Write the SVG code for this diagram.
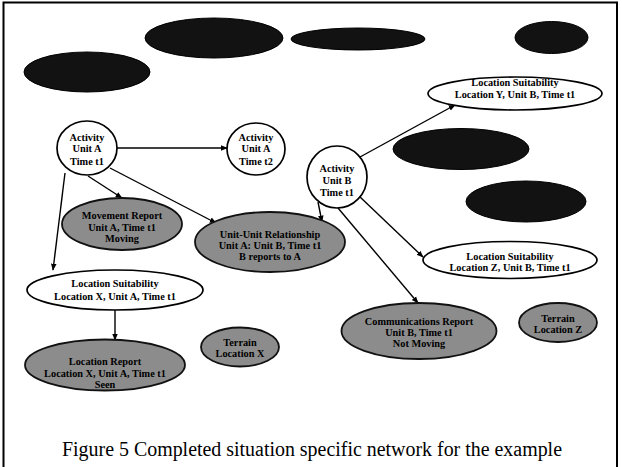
<svg xmlns="http://www.w3.org/2000/svg" width="622" height="467" viewBox="0 0 622 467">
<style>
.w{fill:#fff;stroke:#000;stroke-width:1.7}
.g{fill:#8c8c8c;stroke:#111;stroke-width:1.8}
.d{fill:#121212;stroke:#000;stroke-width:1}
text{font-family:"Liberation Serif","Times New Roman",serif;font-weight:bold;font-size:10.3px;text-anchor:middle;fill:#000}
.c{font-weight:normal;font-size:20px}
.e line{stroke:#000;stroke-width:1.4;marker-end:url(#a)}
</style>
<defs>
<marker id="a" viewBox="0 0 10 10" refX="9" refY="5" markerWidth="7" markerHeight="7" markerUnits="userSpaceOnUse" orient="auto">
<path d="M0,1 L10,5 L0,9 Z" fill="#000"/>
</marker>
</defs>
<rect x="0" y="0" width="622" height="467" fill="#fff"/>
<path d="M3.5,470 V2.5 H617 V470" fill="none" stroke="#000" stroke-width="2"/>
<g id="dark1"><ellipse class="d" cx="87" cy="72" rx="63" ry="20"/></g>
<g id="dark2"><ellipse class="d" cx="214" cy="38" rx="69" ry="20"/></g>
<g id="dark3"><ellipse class="d" cx="358" cy="39" rx="67" ry="11"/></g>
<g id="dark4"><ellipse class="d" cx="551.5" cy="37.5" rx="36.5" ry="16"/></g>
<g id="dark5"><ellipse class="d" cx="461" cy="149" rx="68" ry="20.5"/></g>
<g id="dark6"><ellipse class="d" cx="526" cy="201.5" rx="60" ry="20.5"/></g>
<g class="e" id="connectors">
<line x1="117" y1="148" x2="227" y2="148"/>
<line x1="88" y1="176" x2="122" y2="198"/>
<line x1="110" y1="168" x2="216" y2="223"/>
<line x1="65" y1="173" x2="53" y2="270"/>
<line x1="115" y1="310" x2="115" y2="340"/>
<line x1="360" y1="157" x2="455" y2="105"/>
<line x1="318" y1="202" x2="322" y2="222"/>
<line x1="359" y1="196" x2="423" y2="257"/>
<line x1="338" y1="208" x2="418" y2="303"/>
</g>
<g id="activityA1"><ellipse class="w" cx="87" cy="148" rx="30" ry="27"/>
<text x="87" y="140.5">Activity</text><text x="87" y="152">Unit A</text><text x="87" y="164.5">Time t1</text></g>
<g id="activityA2"><ellipse class="w" cx="256" cy="149" rx="29" ry="26"/>
<text x="256" y="140.5">Activity</text><text x="256" y="152">Unit A</text><text x="256" y="164.5">Time t2</text></g>
<g id="activityB1"><ellipse class="w" cx="337" cy="177" rx="30" ry="31"/>
<text x="337" y="171.5">Activity</text><text x="337" y="183.5">Unit B</text><text x="337" y="195.5">Time t1</text></g>
<g id="locSuitY"><ellipse class="w" cx="515" cy="93.5" rx="87" ry="16.5"/>
<text x="515" y="85.5">Location Suitability</text><text x="515" y="97.5">Location Y, Unit B, Time t1</text></g>
<g id="locSuitZ"><ellipse class="w" cx="510" cy="260" rx="87" ry="18.5"/>
<text x="510" y="259.5">Location Suitability</text><text x="510" y="270.5">Location Z, Unit B, Time t1</text></g>
<g id="locSuitX"><ellipse class="w" cx="115" cy="290" rx="88" ry="20"/>
<text x="115" y="286.5">Location Suitability</text><text x="115" y="299.5">Location X, Unit A, Time t1</text></g>
<g id="movementReport"><ellipse class="g" cx="122" cy="224" rx="60" ry="26"/>
<text x="122" y="218.5">Movement Report</text><text x="122" y="230.5">Unit A, Time t1</text><text x="122" y="241.5">Moving</text></g>
<g id="unitRelationship"><ellipse class="g" cx="270" cy="242" rx="75" ry="30"/>
<text x="270" y="237.5">Unit-Unit Relationship</text><text x="270" y="248.5">Unit A: Unit B, Time t1</text><text x="270" y="259.5">B reports to A</text></g>
<g id="locationReport"><ellipse class="g" cx="105" cy="365" rx="80" ry="25.5"/>
<text x="105" y="364.5">Location Report</text><text x="105" y="376.5">Location X, Unit A, Time t1</text><text x="105" y="388">Seen</text></g>
<g id="terrainX"><ellipse class="g" cx="240" cy="347" rx="39" ry="19.5"/>
<text x="240" y="345.5">Terrain</text><text x="240" y="356.5">Location X</text></g>
<g id="commsReport"><ellipse class="g" cx="419" cy="331" rx="77.5" ry="28"/>
<text x="419" y="324.5">Communications Report</text><text x="419" y="335.5">Unit B, Time t1</text><text x="419" y="346.5">Not Moving</text></g>
<g id="terrainZ"><ellipse class="g" cx="558" cy="322.5" rx="39" ry="19.5"/>
<text x="558" y="321.5">Terrain</text><text x="558" y="332.5">Location Z</text></g>
<text class="c" x="312" y="456" textLength="500" lengthAdjust="spacingAndGlyphs">Figure 5 Completed situation specific network for the example</text>
</svg>
